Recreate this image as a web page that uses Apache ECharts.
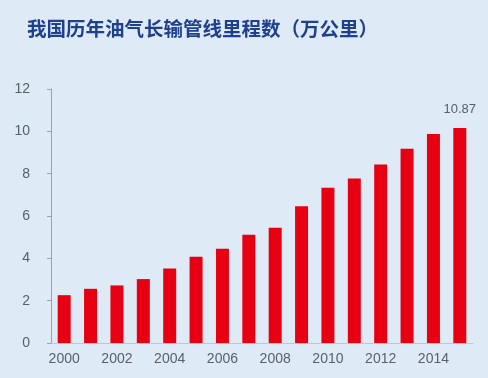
<!DOCTYPE html>
<html>
<head>
<meta charset="utf-8">
<script src="https://cdn.jsdelivr.net/npm/echarts@6/dist/echarts.min.js"></script>
<style>
  html, body { margin: 0; padding: 0; background: #deeaf6; }
  #chart { width: 488px; height: 378px; }
</style>
</head>
<body>
<div id="chart"></div>
<script>
// 年份
var years = ['2000', '2001', '2002', '2003', '2004', '2005', '2006', '2007',
    '2008', '2009', '2010', '2011', '2012', '2013', '2014', '2015'];
// 里程数（万公里），按柱高读出
var mileage = [2.26, 2.56, 2.72, 3.02, 3.52, 4.07, 4.45, 5.11,
    5.44, 6.46, 7.33, 7.77, 8.43, 9.18, 9.87, 10.16];
// 最后一根柱子上标的数
var lastLabel = '10.87';

function pageInit() {
    var myChart = echarts.init(document.getElementById('chart'));
    var option = {
        backgroundColor: '#deeaf6',
        animation: false,
        title: {
            text: '我国历年油气长输管线里程数（万公里）',
            left: 22,
            top: 14,
            textStyle: {
                color: '#1f3f8f',
                fontSize: 19.5,
                fontWeight: 'bold',
                fontFamily: 'Noto Sans CJK SC'
            }
        },
        grid: {
            left: 51,
            right: 15,
            top: 89,
            bottom: 35
        },
        xAxis: {
            type: 'category',
            data: years,
            axisLine: { lineStyle: { color: '#e7b7bf', width: 1 } },
            axisTick: { show: false },
            axisLabel: {
                interval: 1,
                color: '#5a6068',
                fontSize: 14,
                fontFamily: 'Arial',
                margin: 9
            }
        },
        yAxis: {
            type: 'value',
            min: 0,
            max: 12,
            interval: 2,
            axisLine: { show: true, lineStyle: { color: '#9aa3ad' } },
            axisTick: { show: true, length: 4, lineStyle: { color: '#9aa3ad' } },
            splitLine: { show: false },
            axisLabel: {
                color: '#5a6068',
                fontSize: 14,
                fontFamily: 'Arial',
                margin: 21
            }
        },
        series: [{
            type: 'bar',
            data: mileage,
            barWidth: 13,
            itemStyle: { color: '#e60012' },
            label: {
                show: true,
                position: 'top',
                distance: 12,
                color: '#5a6068',
                fontSize: 13,
                fontFamily: 'Arial',
                formatter: function (p) {
                    return p.dataIndex === mileage.length - 1 ? lastLabel : '';
                }
            }
        }]
    };
    myChart.setOption(option);
}

window.onload = function () {
    pageInit();
}
</script>
</body>
</html>
